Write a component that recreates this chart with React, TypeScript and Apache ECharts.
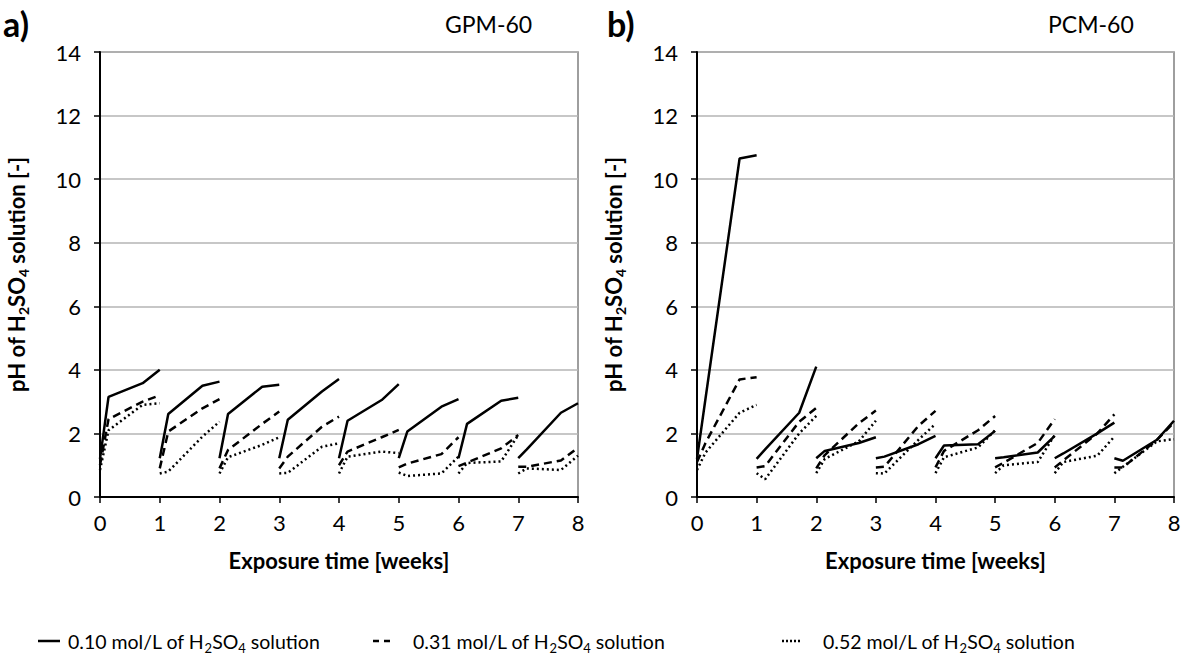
import React, { useEffect, useRef } from 'react';
import * as echarts from 'echarts';

// measurement days within each exposure week
const days = [0, 1, 5, 7];
const panelTitles = ['GPM-60', 'PCM-60'];
const panelLetters = ['a)', 'b)'];
const concentrations = ['0.10', '0.31', '0.52'];

// pH values per week [day0, day1, day5, day7] – GPM-60
const gpm010 = [
  [1.2, 3.15, 3.58, 4.0],
  [1.22, 2.61, 3.5, 3.63],
  [1.22, 2.61, 3.47, 3.53],
  [1.22, 2.43, 3.32, 3.71],
  [1.22, 2.4, 3.05, 3.55],
  [1.22, 2.06, 2.84, 3.08],
  [1.22, 2.3, 3.03, 3.12],
  [1.22, 1.5, 2.65, 2.95],
];
const gpm031 = [
  [1.0, 2.45, 3.0, 3.2],
  [0.9, 2.06, 2.79, 3.08],
  [0.9, 1.48, 2.3, 2.69],
  [0.9, 1.27, 2.21, 2.53],
  [1.0, 1.43, 1.88, 2.11],
  [0.93, 1.05, 1.35, 1.88],
  [0.97, 1.08, 1.53, 1.95],
  [0.95, 0.95, 1.15, 1.55],
];
const gpm052 = [
  [0.85, 2.1, 2.9, 2.95],
  [0.74, 0.8, 1.9, 2.37],
  [0.74, 1.25, 1.64, 1.88],
  [0.74, 0.76, 1.58, 1.69],
  [0.74, 1.27, 1.43, 1.38],
  [0.77, 0.66, 0.74, 1.27],
  [0.74, 1.07, 1.12, 1.95],
  [0.74, 0.9, 0.85, 1.3],
];
// PCM-60
const pcm010 = [
  [1.2, 3.1, 10.65, 10.75],
  [1.2, 1.5, 2.65, 4.1],
  [1.22, 1.45, 1.7, 1.88],
  [1.22, 1.27, 1.66, 1.92],
  [1.22, 1.62, 1.66, 2.08],
  [1.22, 1.25, 1.4, 1.92],
  [1.22, 1.37, 2.0, 2.34],
  [1.22, 1.14, 1.8, 2.4],
];
const pcm031 = [
  [1.1, 1.7, 3.7, 3.77],
  [0.93, 0.97, 2.37, 2.8],
  [0.9, 1.32, 2.32, 2.72],
  [0.93, 0.95, 2.24, 2.71],
  [0.93, 1.45, 2.1, 2.55],
  [0.93, 1.08, 1.7, 2.45],
  [0.93, 1.15, 2.0, 2.6],
  [0.93, 0.93, 1.8, 2.35],
];
const pcm052 = [
  [0.85, 1.4, 2.65, 2.9],
  [0.75, 0.56, 2.0, 2.55],
  [0.75, 1.2, 1.75, 2.4],
  [0.75, 0.74, 1.8, 2.3],
  [0.75, 1.25, 1.56, 2.1],
  [0.75, 1.0, 1.1, 1.95],
  [0.75, 1.1, 1.3, 1.9],
  [0.75, 0.95, 1.75, 1.82],
];

const F = 'Lato';
const lineTypes: any[] = ['solid', [8, 5], [2, 3]];

export default function App() {
  const ref = useRef<HTMLDivElement>(null);
  useEffect(() => {
    document.body.style.margin = '0';
    const chart = echarts.init(ref.current!, undefined, { renderer: 'svg' });
    const panels = [
      [gpm010, gpm031, gpm052],
      [pcm010, pcm031, pcm052],
    ];
    const series: any[] = [];
    panels.forEach((sets, p) => {
      sets.forEach((weeksData, c) => {
        weeksData.forEach((vals, w) => {
          series.push({
            type: 'line',
            name: concentrations[c],
            xAxisIndex: p,
            yAxisIndex: p,
            data: vals.map((v, i) => [w + days[i] / 7, v]),
            symbol: 'none',
            showSymbol: false,
            silent: true,
            lineStyle: { color: '#000', width: 2.5, type: lineTypes[c] },
            itemStyle: { color: '#000' },
          });
        });
      });
    });

    const rich = {
      n: { fontSize: 19.5, fontFamily: F, fill: '#000', color: '#000', lineHeight: 26 },
      s: { fontSize: 13, fontFamily: F, fill: '#000', color: '#000', lineHeight: 16, verticalAlign: 'bottom' },
    };
    const boldRich = {
      n: { fontSize: 22, fontFamily: F, fontWeight: 'bold', color: '#000', lineHeight: 28 },
      s: { fontSize: 14, fontFamily: F, fontWeight: 'bold', color: '#000', lineHeight: 17, verticalAlign: 'bottom' },
    };
    const legendIcons = [
      { x1: 38, x2: 60, dash: null as any },
      { x1: 373, x2: 390, dash: [6, 5] },
      { x1: 782, x2: 802, dash: [2, 2] },
    ];
    const legendTextX = [68, 413, 823];
    const legendY = 641;
    const graphic: any[] = [];
    concentrations.forEach((c, i) => {
      const ic = legendIcons[i];
      graphic.push({
        type: 'line',
        silent: true,
        shape: { x1: ic.x1, y1: legendY, x2: ic.x2, y2: legendY },
        style: { stroke: '#000', lineWidth: 2.5, lineDash: ic.dash },
      });
      graphic.push({
        type: 'text',
        silent: true,
        x: legendTextX[i],
        y: legendY,
        style: {
          text: `{n|${c} mol/L of H}{s|2}{n|SO}{s|4}{n| solution}`,
          rich,
          align: 'left',
          verticalAlign: 'middle',
        },
      });
    });

    const grids = [
      { left: 100, top: 52, width: 478, height: 445 },
      { left: 697, top: 52, width: 477, height: 445 },
    ];

    const option: any = {
      animation: false,
      textStyle: { fontFamily: F },
      title: [
        { text: panelLetters[0], left: 3, top: 6, padding: 0, textStyle: { fontSize: 34, fontWeight: 'bold', fontFamily: F, color: '#000' } },
        { text: panelTitles[0], left: 445, top: 12, padding: 0, textStyle: { fontSize: 23, fontWeight: 'normal', fontFamily: F, color: '#000' } },
        { text: panelLetters[1], left: 607, top: 6, padding: 0, textStyle: { fontSize: 34, fontWeight: 'bold', fontFamily: F, color: '#000' } },
        { text: panelTitles[1], left: 1048, top: 12, padding: 0, textStyle: { fontSize: 23, fontWeight: 'normal', fontFamily: F, color: '#000' } },
      ],
      graphic,
      grid: grids.map((g) => ({ ...g, show: true, borderColor: '#7f7f7f', borderWidth: 1.5 })),
      xAxis: grids.map((_, i) => ({
        type: 'value',
        gridIndex: i,
        min: 0,
        max: 8,
        interval: 1,
        name: 'Exposure time [weeks]',
        nameLocation: 'middle',
        nameGap: 52,
        nameTextStyle: { fontSize: 22, fontWeight: 'bold', fontFamily: F, color: '#000' },
        axisLine: { show: true, onZero: false, lineStyle: { color: '#000', width: 2 } },
        axisTick: { show: true, length: 6, lineStyle: { color: '#000', width: 1.5 } },
        axisLabel: { fontSize: 22, color: '#000', margin: 14, fontFamily: F },
        splitLine: { show: false },
      })),
      yAxis: grids.map((_, i) => ({
        type: 'value',
        gridIndex: i,
        min: 0,
        max: 14,
        interval: 2,
        name: '{n|pH of H}{s|2}{n|SO}{s|4}{n| solution [-]}',
        nameLocation: 'middle',
        nameRotate: 90,
        nameGap: 70,
        nameTextStyle: { rich: boldRich },
        axisLine: { show: true, onZero: false, lineStyle: { color: '#000', width: 2 } },
        axisTick: { show: true, length: 6, lineStyle: { color: '#000', width: 1.5 } },
        axisLabel: { fontSize: 22, color: '#000', margin: 19, fontFamily: F },
        splitLine: { show: true, lineStyle: { color: '#b4b4b4', width: 1.5 } },
      })),
      series,
    };
    chart.setOption(option);
    return () => chart.dispose();
  }, []);
  return <div ref={ref} style={{ width: 1189, height: 661 }} />;
}
